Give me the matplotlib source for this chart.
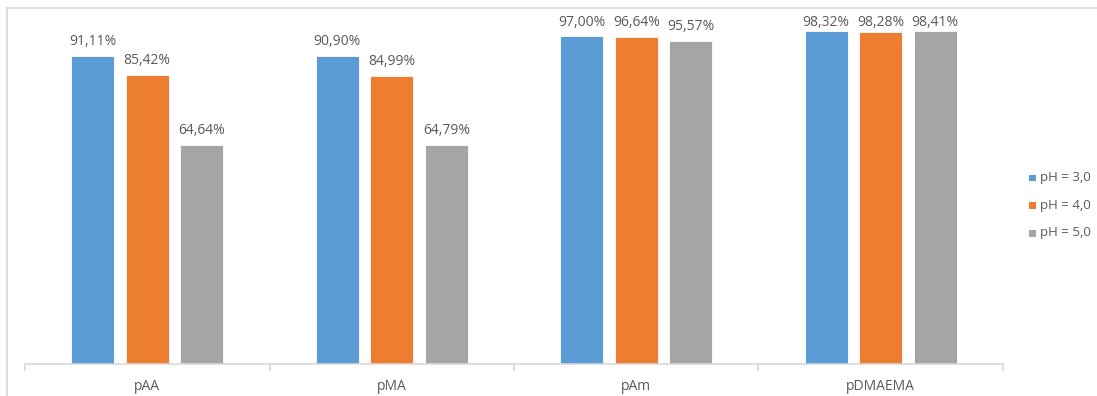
import numpy as np
import matplotlib
matplotlib.use("Agg")
import matplotlib.pyplot as plt
from matplotlib.lines import Line2D
from matplotlib.patches import Rectangle

categories = ["pAA", "pMA", "pAm", "pDMAEMA"]
series_names = ["pH = 3,0", "pH = 4,0", "pH = 5,0"]
ph3 = [91.11, 90.90, 97.00, 98.32]
ph4 = [85.42, 84.99, 96.64, 98.28]
ph5 = [64.64, 64.79, 95.57, 98.41]
colors = ["#5B9BD5", "#ED7D31", "#A5A5A5"]

plt.rcParams["font.family"] = ["Open Sans", "DejaVu Sans"]
text_col = "#595959"
grid_col = "#D9D9D9"

W, H = 1097, 396
fig = plt.figure(figsize=(W / 100, H / 100), dpi=100)

# chart frame (top and left edges)
fig.add_artist(Line2D([7 / W, 7 / W], [0, 1 - 8 / H], transform=fig.transFigure,
                      color=grid_col, lw=1.2))
fig.add_artist(Line2D([7 / W, 1], [1 - 8 / H, 1 - 8 / H], transform=fig.transFigure,
                      color=grid_col, lw=1.2))

left, right = 25 / W, 1003 / W
bottom, top = 1 - 363.7 / H, 1 - 25.7 / H
ax = fig.add_axes([left, bottom, right - left, top - bottom])

x = np.arange(len(categories))
pitch = 0.223
width = 0.176
label_gap = 2.1      # space between bar top and its label, in % units
label_ceiling = 98.7  # labels are kept inside the chart area
for i, (vals, name, c) in enumerate(zip([ph3, ph4, ph5], series_names, colors)):
    pos = x + (i - 1) * pitch
    ax.bar(pos, vals, width=width, color=c, edgecolor="white", linewidth=0.6,
           label=name, zorder=2)
    for p, v in zip(pos, vals):
        ax.text(p, min(v + label_gap, label_ceiling), f"{v:.2f}%".replace(".", ","),
                ha="center", va="bottom", fontsize=10, color=text_col, clip_on=False)

ax.set_xlim(-0.5, len(categories) - 0.5)
ax.set_ylim(0, 100)
ax.set_yticks([])
for s in ["top", "right", "left"]:
    ax.spines[s].set_visible(False)
ax.spines["bottom"].set_color(grid_col)
ax.spines["bottom"].set_linewidth(1.2)

ax.set_xticks(np.arange(len(categories) + 1) - 0.5)
ax.set_xticklabels([])
ax.tick_params(axis="x", length=5, width=1.2, color=grid_col)
ax.set_xticks(x, minor=True)
ax.set_xticklabels(categories, minor=True, fontsize=10, color=text_col)
ax.tick_params(axis="x", which="minor", length=0, pad=11)

# legend drawn as swatches with labels on the right
for k, (name, c) in enumerate(zip(series_names, colors)):
    yc = 178 + k * 27.5
    fig.add_artist(Rectangle((1029 / W, 1 - (yc + 3.5) / H), 7 / W, 7 / H,
                             transform=fig.transFigure, facecolor=c, edgecolor="none"))
    fig.text(1040 / W, 1 - yc / H, name, ha="left", va="center", fontsize=9.5,
             color=text_col)

fig.savefig("out.png", dpi=100)
